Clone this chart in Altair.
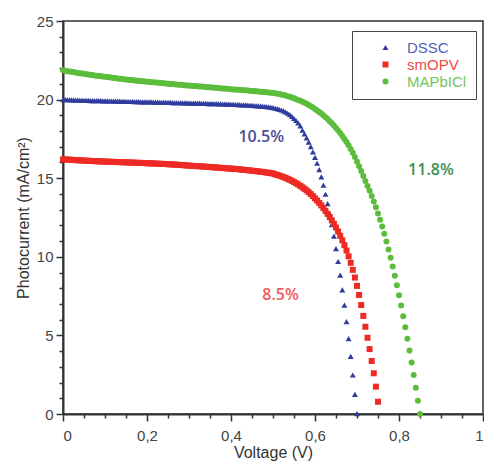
import altair as alt
import pandas as pd

# Sweep step of the measured J-V curves (V)
V_STEP = 0.005

# Photocurrent (mA/cm2) read at each voltage step, starting at 0 V
dssc_j = [
    20.00, 20.00, 19.99, 19.99, 19.98, 19.98, 19.97, 19.97, 19.96, 19.96, 19.95,
    19.95, 19.95, 19.94, 19.94, 19.94, 19.93, 19.93, 19.93, 19.92, 19.92,
    19.92, 19.91, 19.91, 19.91, 19.90, 19.90, 19.90, 19.89, 19.89, 19.89,
    19.88, 19.88, 19.88, 19.87, 19.87, 19.87, 19.86, 19.86, 19.86, 19.85,
    19.85, 19.85, 19.84, 19.84, 19.84, 19.83, 19.83, 19.83, 19.82, 19.82,
    19.82, 19.81, 19.81, 19.80, 19.80, 19.80, 19.79, 19.79, 19.79, 19.78,
    19.78, 19.78, 19.77, 19.77, 19.77, 19.76, 19.76, 19.76, 19.75, 19.75,
    19.75, 19.74, 19.74, 19.73, 19.73, 19.72, 19.72, 19.71, 19.71, 19.70,
    19.70, 19.69, 19.68, 19.68, 19.67, 19.66, 19.66, 19.65, 19.64, 19.63,
    19.62, 19.61, 19.60, 19.59, 19.58, 19.56, 19.55, 19.53, 19.51, 19.49,
    19.45, 19.42, 19.38, 19.34, 19.28, 19.21, 19.13, 19.04, 18.93, 18.81,
    18.67, 18.51, 18.33, 18.05, 17.82, 17.57, 17.30, 17.00, 16.68, 16.33,
    15.95, 15.55, 15.08, 14.55, 13.98, 13.38, 12.74, 12.05, 11.31, 10.52,
    9.70, 8.83, 7.90, 6.92, 5.88, 4.80, 3.67, 2.48, 1.25, 0.02,
]
smopv_j = [
    16.20, 16.19, 16.18, 16.18, 16.17, 16.16, 16.15, 16.14, 16.14, 16.13, 16.12,
    16.11, 16.11, 16.10, 16.09, 16.09, 16.08, 16.07, 16.07, 16.06, 16.06,
    16.05, 16.05, 16.04, 16.04, 16.03, 16.03, 16.02, 16.02, 16.01, 16.01,
    16.00, 16.00, 15.99, 15.99, 15.98, 15.98, 15.97, 15.97, 15.96, 15.95,
    15.95, 15.94, 15.94, 15.93, 15.92, 15.92, 15.91, 15.91, 15.90, 15.89,
    15.88, 15.88, 15.87, 15.86, 15.85, 15.84, 15.83, 15.82, 15.81, 15.80,
    15.79, 15.78, 15.77, 15.77, 15.76, 15.75, 15.74, 15.73, 15.72, 15.71,
    15.70, 15.69, 15.68, 15.67, 15.66, 15.65, 15.64, 15.63, 15.62, 15.61,
    15.60, 15.59, 15.58, 15.56, 15.55, 15.54, 15.52, 15.51, 15.49, 15.48,
    15.46, 15.45, 15.43, 15.41, 15.40, 15.38, 15.36, 15.34, 15.32, 15.30,
    15.25, 15.21, 15.17, 15.12, 15.07, 15.02, 14.96, 14.90, 14.83, 14.76,
    14.68, 14.60, 14.51, 14.42, 14.32, 14.22, 14.11, 13.99, 13.86, 13.72,
    13.58, 13.43, 13.27, 13.10, 12.92, 12.73, 12.53, 12.32, 12.10, 11.86,
    11.61, 11.34, 11.05, 10.74, 10.40, 10.03, 9.62, 9.17, 8.68, 8.15,
    7.57, 6.93, 6.24, 5.55, 4.85, 4.13, 3.37, 2.59, 1.74, 0.78,
]
mapbicl_j = [
    21.86, 21.84, 21.81, 21.79, 21.77, 21.75, 21.73, 21.70, 21.68, 21.66, 21.64,
    21.62, 21.60, 21.58, 21.56, 21.54, 21.52, 21.50, 21.49, 21.47, 21.45,
    21.43, 21.42, 21.40, 21.38, 21.37, 21.35, 21.33, 21.32, 21.30, 21.28,
    21.27, 21.25, 21.24, 21.22, 21.21, 21.19, 21.18, 21.17, 21.15, 21.14,
    21.13, 21.11, 21.10, 21.09, 21.08, 21.06, 21.05, 21.04, 21.03, 21.01,
    21.00, 20.99, 20.98, 20.96, 20.95, 20.94, 20.93, 20.91, 20.90, 20.89,
    20.88, 20.87, 20.86, 20.85, 20.84, 20.83, 20.81, 20.80, 20.79, 20.78,
    20.77, 20.76, 20.75, 20.73, 20.72, 20.71, 20.70, 20.69, 20.67, 20.66,
    20.65, 20.64, 20.63, 20.62, 20.61, 20.60, 20.59, 20.58, 20.56, 20.55,
    20.54, 20.53, 20.52, 20.50, 20.49, 20.48, 20.47, 20.45, 20.44, 20.42,
    20.40, 20.38, 20.35, 20.32, 20.29, 20.26, 20.22, 20.18, 20.13, 20.08,
    20.03, 19.98, 19.92, 19.86, 19.80, 19.73, 19.66, 19.58, 19.49, 19.40,
    19.31, 19.21, 19.11, 19.00, 18.88, 18.76, 18.63, 18.50, 18.35, 18.20,
    18.04, 17.87, 17.69, 17.50, 17.30, 17.09, 16.86, 16.62, 16.35, 16.05,
    15.76, 15.46, 15.14, 14.82, 14.51, 14.20, 13.87, 13.52, 13.15, 12.76,
    12.35, 11.92, 11.46, 10.98, 10.47, 9.94, 9.38, 8.80, 8.19, 7.56,
    6.90, 6.22, 5.52, 4.79, 4.04, 3.27, 2.48, 1.67, 0.84, 0.00,
]

series_names = ["DSSC", "smOPV", "MAPbICl"]
series_colors = ["#2F3C9E", "#EE2A24", "#5CBD3C"]
series_shapes = ["triangle-up", "square", "circle"]
legend_label_colors = ["#5363B3", "#F04848", "#74C45A"]

ann_text = ["10.5%", "8.5%", "11.8%"]
ann_v = [0.472, 0.518, 0.876]
ann_j = [17.6, 7.57, 15.55]
ann_colors = ["#4A4E94", "#F25A5A", "#3C9150"]

x_tick_values = [round(i * 0.05, 2) for i in range(21)]
y_tick_values = list(range(26))

rows = []
for name, js in zip(series_names, [dssc_j, smopv_j, mapbicl_j]):
    for i, j in enumerate(js):
        rows.append({"Voltage": round(i * V_STEP, 3), "Current": j, "Device": name})
df = pd.DataFrame(rows)
ann_df = pd.DataFrame({"V": ann_v, "J": ann_j, "text": ann_text, "color": ann_colors})

FONT = "Liberation Sans"
x_major = "abs(datum.value*5 - round(datum.value*5)) < 0.001"
y_major = "datum.value % 5 == 0"

x_scale = alt.Scale(domain=[0, 1], nice=False, zero=False)
y_scale = alt.Scale(domain=[0, 25], nice=False)

label_color_expr = (
    f"datum.label == '{series_names[0]}' ? '{legend_label_colors[0]}' : "
    f"datum.label == '{series_names[1]}' ? '{legend_label_colors[1]}' : '{legend_label_colors[2]}'"
)

legend = alt.Legend(
    title=None,
    orient="none",
    legendX=289,
    legendY=10,
    strokeColor="#444444",
    padding=9,
    symbolOffset=17,
    symbolSize=36,
    symbolStrokeWidth=0,
    labelOffset=14,
    labelFont=FONT,
    labelFontSize=15,
    labelColor={"expr": label_color_expr},
    rowPadding=1,
)

x_axis = alt.Axis(
    title="Voltage (V)",
    values=x_tick_values,
    labelExpr=f"{x_major} ? replace(format(datum.value, '.1~f'), '.', ',') : ''",
    tickSize={"condition": {"test": x_major, "value": 7}, "value": 4},
    labelOverlap=False,
    grid=False,
    labelPadding=7,
    titlePadding=1,
)
y_axis = alt.Axis(
    title="Photocurrent (mA/cm²)",
    values=y_tick_values,
    labelExpr=f"{y_major} ? format(datum.value, 'd') : ''",
    tickSize={"condition": {"test": y_major, "value": 7}, "value": 4},
    labelOverlap=False,
    grid=False,
    labelPadding=3,
    titlePadding=5,
)

points = alt.Chart(df).mark_point(filled=True, opacity=1, size=36).encode(
    x=alt.X("Voltage:Q", scale=x_scale, axis=x_axis),
    y=alt.Y("Current:Q", scale=y_scale, axis=y_axis),
    color=alt.Color("Device:N", scale=alt.Scale(domain=series_names, range=series_colors), legend=legend),
    shape=alt.Shape("Device:N", scale=alt.Scale(domain=series_names, range=series_shapes), legend=legend),
)

labels = alt.Chart(ann_df).mark_text(
    font="Open Sans", fontSize=16, fontWeight=600
).encode(
    x=alt.X("V:Q", scale=x_scale, axis=x_axis),
    y=alt.Y("J:Q", scale=y_scale, axis=y_axis),
    text="text:N",
    color=alt.Color("color:N", scale=None),
)

chart = alt.layer(points, labels).properties(
    width=420,
    height=393,
    autosize=alt.AutoSizeParams(type="none"),
    padding={"left": 55, "top": 13, "right": 1, "bottom": 49},
).configure_view(
    stroke="#333333", strokeWidth=1.5
).configure_axis(
    domainColor="#333333",
    domainWidth=2,
    tickColor="#333333",
    tickWidth=1.5,
    labelFont=FONT,
    labelFontSize=15,
    labelColor="#444444",
    labelOverlap=False,
    titleFont=FONT,
    titleFontSize=16,
    titleFontWeight="normal",
    titleColor="#333333",
)

chart.save("out.html", embed_options={"renderer": "svg", "actions": False})
